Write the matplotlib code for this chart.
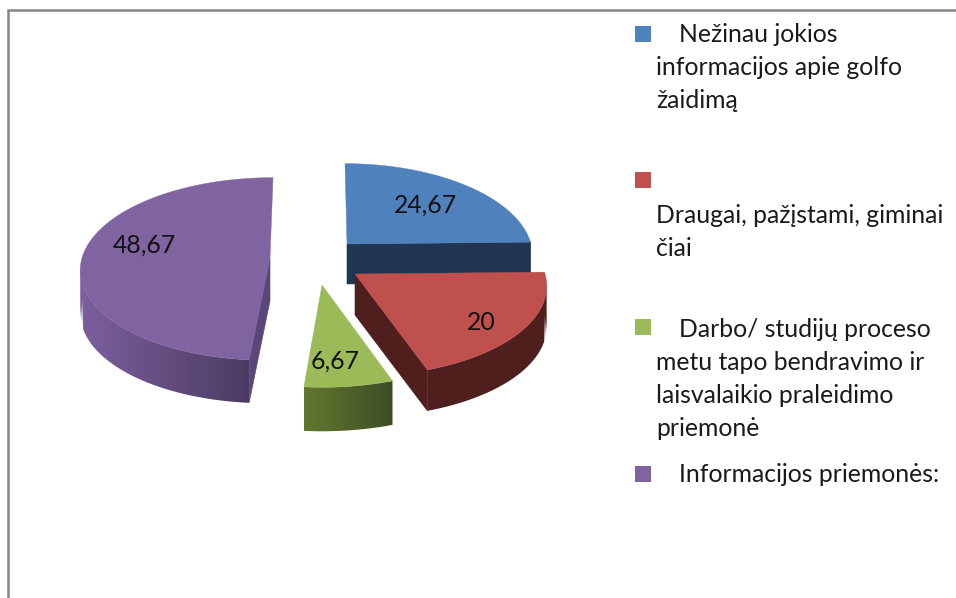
import numpy as np
import matplotlib
matplotlib.use("Agg")
import matplotlib.pyplot as plt
from matplotlib.patches import Polygon
from matplotlib.colors import to_rgb

# Data
values = [24.67, 20, 6.67, 48.67]
value_labels = ["24,67", "20", "6,67", "48,67"]
legend_lines = [
    ["   Nežinau jokios", "informacijos apie golfo", "žaidimą"],
    ["", "Draugai, pažįstami, giminai", "čiai"],
    ["   Darbo/ studijų proceso", "metu tapo bendravimo ir", "laisvalaikio praleidimo", "priemonė"],
    ["   Informacijos priemonės:"],
]

# Styles / layout (pixel space)
W, H = 956, 598
top_colors = ["#4F81BD", "#C0504D", "#9BBB59", "#8064A2"]
wall_left = ["#1F3552", "#4F1F1E", "#62782F", "#7C5F9E"]
wall_right = ["#1F3552", "#4F1F1E", "#3E4D24", "#4C3C62"]
face_colors = ["#1F3552", "#4F1F1E", None, "#5A4678"]
visible_face = [1, 1, None, 0]   # which radial edge of a slice shows its cut face
apex = [(347, 244), (355, 274), (322, 285), (270, 258)]
radius_x = [184, 190, 190, 188]
lean = [-2, -2, 0, 3]
depth = [40, 41, 44, 43]
label_pos = [(425, 205), (481, 322), (335, 361), (144, 245)]
RY, K = 90.0, 0.12
draw_order = [3, 0, 2, 1]
font = "Lato"
fs = 17.8

fig = plt.figure(figsize=(W / 100, H / 100), dpi=100, facecolor="white")
ax = fig.add_axes([0, 0, 1, 1])
ax.axis("off")

# Outer frame
ax.plot([8, 8, W], [H, 10, 10], color="#868686", lw=1.8, solid_joinstyle="miter", zorder=1)


def project(i, t):
    u, v = np.sin(t), np.cos(t)
    w = 1 + K * v
    x = apex[i][0] + radius_x[i] * u / w + lean[i] * v
    y = apex[i][1] - RY * v / w
    return x, y


fractions = np.array(values) / sum(values)
edges = np.concatenate([[0], np.cumsum(fractions)]) * 2 * np.pi

z = 2
for i in draw_order:
    t0, t1 = edges[i], edges[i + 1]
    ts = np.linspace(t0, t1, 120)
    xs, ys = project(i, ts)
    ax0, ay0 = apex[i]
    d = depth[i]

    # cut face
    if visible_face[i] is not None:
        ex, ey = project(i, (t0, t1)[visible_face[i]])
        ax.fill([ax0, ex, ex, ax0], [ay0, ey, ey + d, ay0 + d],
                color=face_colors[i], lw=0.4, zorder=z)

    # outer wall on the near half, shaded with a clipped horizontal gradient
    mask = np.cos(ts) <= 0.05
    if mask.sum() > 1:
        xv, yv = xs[mask], ys[mask]
        order = np.argsort(xv)
        xv, yv = xv[order], yv[order]
        poly = Polygon(np.c_[np.r_[xv, xv[::-1]], np.r_[yv, yv[::-1] + d]],
                       closed=True, facecolor="none", edgecolor="none", transform=ax.transData)
        ax.add_patch(poly)
        f = np.linspace(0, 1, 256)[None, :, None]
        grad = np.array(to_rgb(wall_left[i]))[None, None, :] * (1 - f) + \
            np.array(to_rgb(wall_right[i]))[None, None, :] * f
        im = ax.imshow(grad, extent=(xv[0], xv[-1], yv.max() + d + 1, yv.min() - 1),
                       aspect="auto", zorder=z, interpolation="bilinear")
        im.set_clip_path(poly)

    # top face
    ax.fill(np.r_[ax0, xs], np.r_[ay0, ys], color=top_colors[i], lw=0.3, zorder=z + 0.5)
    ax.text(label_pos[i][0], label_pos[i][1], value_labels[i], ha="center", va="center",
            fontsize=fs, family=font, color="#111111", zorder=20)
    z += 1

ax.set_xlim(0, W)
ax.set_ylim(H, 0)

# Legend
square_y = [34, 180, 327, 474]
first_baseline = [42, 190, 337, 482]
line_gap = 33
for i, lines in enumerate(legend_lines):
    ax.fill([635, 651, 651, 635], [square_y[i] - 8, square_y[i] - 8, square_y[i] + 8, square_y[i] + 8],
            color=top_colors[i], lw=0, zorder=5)
    for j, txt in enumerate(lines):
        if not txt:
            continue
        y = first_baseline[i] + j * line_gap
        x = 679 if txt.startswith("   ") else 656
        ax.text(x, y, txt.strip(), ha="left", va="baseline", fontsize=fs, family=font, color="#1a1a1a", zorder=6)

fig.savefig("out.png", dpi=100)
